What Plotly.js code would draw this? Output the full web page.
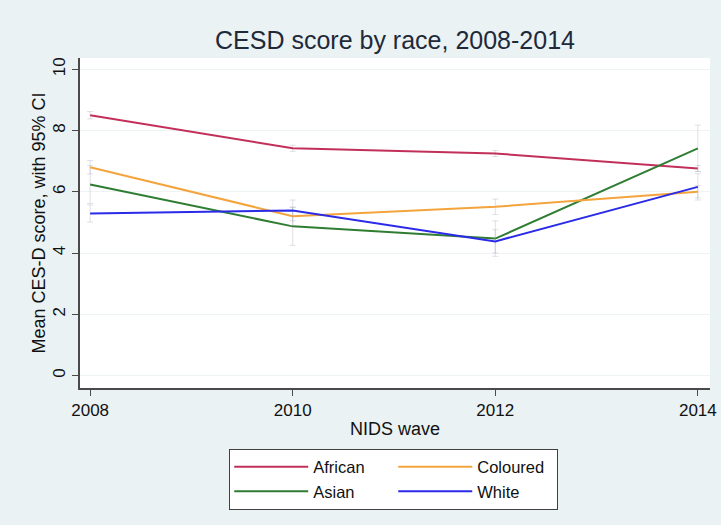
<!DOCTYPE html>
<html>
<head>
<meta charset="utf-8">
<script src="https://cdn.plot.ly/plotly-3.0.1.min.js"></script>
<style>
  html, body { margin: 0; padding: 0; background: #eaf2f3; }
  #chart { width: 721px; height: 525px; }
</style>
</head>
<body>
<div id="chart"></div>
<script>
// NIDS survey waves
const waves = [2008, 2010, 2012, 2014];

// Mean CES-D score per wave, by race group
const african  = [8.50, 7.42, 7.25, 6.76];
const coloured = [6.80, 5.20, 5.51, 6.00];
const asian    = [6.24, 4.87, 4.47, 7.42];
const white    = [5.29, 5.39, 4.38, 6.16];

// Half-width of the 95% confidence interval
const africanCI  = [0.12, 0.10, 0.10, 0.10];
const colouredCI = [0.22, 0.30, 0.25, 0.20];
const asianCI    = [0.62, 0.62, 0.58, 0.76];
const whiteCI    = [0.28, 0.34, 0.38, 0.43];

const yTicks = [0, 2, 4, 6, 8, 10];

const FONT = 'Liberation Sans, Arial, sans-serif';

function series(name, y, ci, color, group) {
  return {
    type: 'scatter',
    mode: 'lines',
    name: name,
    legendgroup: group,
    x: waves,
    y: y,
    line: { color: color, width: 2 },
    error_y: {
      type: 'data',
      array: ci,
      visible: true,
      color: 'rgba(165,165,185,0.35)',
      thickness: 1,
      width: 3
    },
    hoverinfo: 'x+y+name'
  };
}

// Legend columns: African/Asian on the left, Coloured/White on the right
const traces = [
  series('African',  african,  africanCI,  '#c2305a', 'g1'),
  series('Asian',    asian,    asianCI,    '#2f7d32', 'g1'),
  series('Coloured', coloured, colouredCI, '#f4a43c', 'g2'),
  series('White',    white,    whiteCI,    '#2a2ae8', 'g2')
];

const layout = {
  width: 721,
  height: 525,
  paper_bgcolor: '#eaf2f3',
  plot_bgcolor: '#ffffff',
  margin: { l: 80, r: 11, t: 58, b: 137 },
  font: { family: FONT, color: '#111111' },
  title: {
    text: 'CESD score by race, 2008-2014',
    font: { family: FONT, size: 25, color: '#1e2a3a' },
    x: 0.5,
    xref: 'paper',
    y: 1 - 40 / 525,
    yref: 'container',
    yanchor: 'middle'
  },
  xaxis: {
    range: [2007.9, 2014.12],
    tickvals: waves,
    ticktext: waves.map(String),
    ticks: 'outside',
    ticklen: 6,
    tickwidth: 1.2,
    tickcolor: '#4a4a4a',
    showline: true,
    linecolor: '#4a4a4a',
    linewidth: 1.6,
    showgrid: false,
    zeroline: false,
    tickfont: { family: FONT, size: 17, color: '#111111' },
    title: {
      text: 'NIDS wave',
      font: { family: FONT, size: 18, color: '#111111' },
      standoff: 3
    }
  },
  yaxis: {
    range: [-0.41, 10.37],
    tickvals: yTicks,
    ticktext: yTicks.map(String),
    tickangle: -90,
    ticks: 'outside',
    ticklen: 6,
    tickwidth: 1.2,
    tickcolor: '#4a4a4a',
    showline: true,
    linecolor: '#4a4a4a',
    linewidth: 1.6,
    showgrid: true,
    gridcolor: '#eef3f4',
    gridwidth: 1,
    zeroline: false,
    tickfont: { family: FONT, size: 17, color: '#111111' },
    title: {
      text: 'Mean CES-D score, with 95% CI',
      font: { family: FONT, size: 18, color: '#111111' },
      standoff: 0
    }
  },
  showlegend: true,
  legend: {
    orientation: 'h',
    traceorder: 'grouped',
    tracegroupgap: 20,
    entrywidth: 75,
    entrywidthmode: 'pixels',
    x: 0.498,
    xanchor: 'center',
    xref: 'paper',
    y: (387.5 - 448) / 329.5,
    yanchor: 'top',
    yref: 'paper',
    bgcolor: '#ffffff',
    bordercolor: '#404040',
    borderwidth: 1,
    itemwidth: 74,
    font: { family: FONT, size: 16.5, color: '#111111' }
  }
};

Plotly.newPlot('chart', traces, layout, { displayModeBar: false, responsive: false });
</script>
</body>
</html>
